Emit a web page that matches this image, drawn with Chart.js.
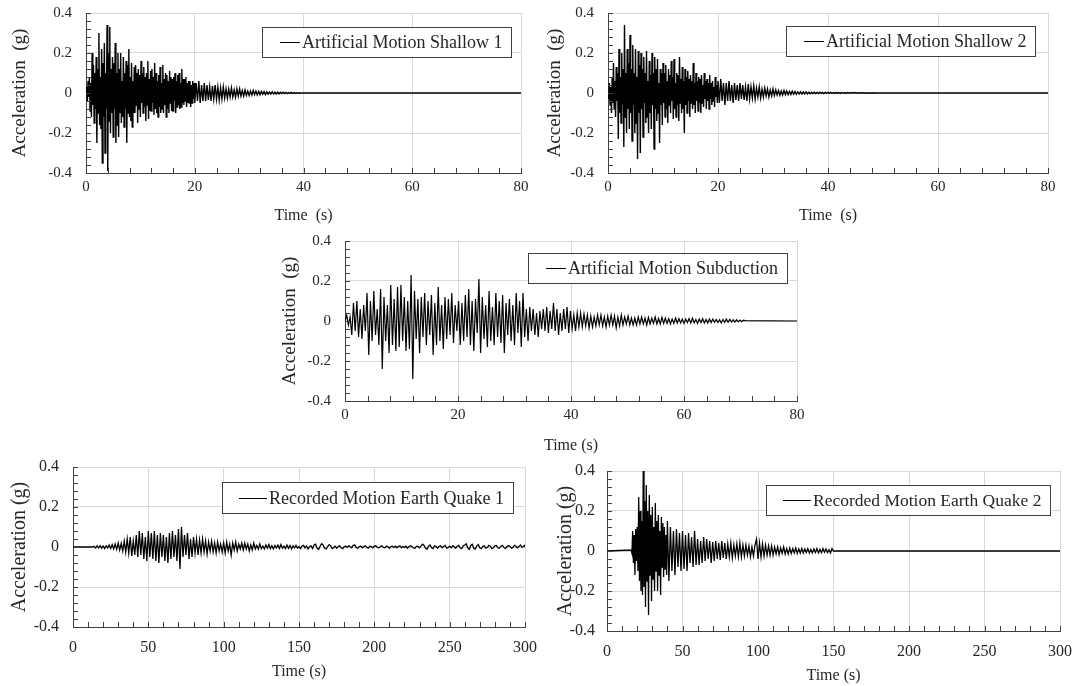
<!DOCTYPE html>
<html>
<head>
<meta charset="utf-8">
<script src="https://cdn.jsdelivr.net/npm/chart.js@4.4.1/dist/chart.umd.min.js"></script>
<style>
  body { margin: 0; background: #fff; width: 1077px; height: 686px; position: relative; overflow: hidden; }
  canvas { position: absolute; }
</style>
</head>
<body>
<canvas id="shallow1" width="527" height="235" style="left:9px;top:-10px"></canvas>
<canvas id="shallow2" width="519" height="235" style="left:544px;top:-10px"></canvas>
<canvas id="subduction" width="533" height="237" style="left:279px;top:218px"></canvas>
<canvas id="quake1" width="540" height="238" style="left:8px;top:443px"></canvas>
<canvas id="quake2" width="529" height="236" style="left:554px;top:449px"></canvas>
<script>
// axis ticks
const yTickValues = [-0.4, -0.2, 0, 0.2, 0.4]
const yTickLabels = ["-0.4", "-0.2", "0", "0.2", "0.4"]
const xTicksShort = [0, 20, 40, 60, 80]
const xTicksLong = [0, 50, 100, 150, 200, 250, 300]

// Artificial Motion Shallow 1 : strong phase every 0.125 s from 0 s, coda every 0.25 s from 20 s
const shallow1Strong = [
  0, 0.03, -0.04, 0.06, -0.02, 0.08, -0.09, 0.05,
  -0.12, 0.2, -0.06, 0.14, -0.15, 0.1, -0.08, 0.18,
  -0.25, 0.12, -0.1, 0.3, -0.16, 0.08, -0.18, 0.22,
  -0.35, 0.15, -0.12, 0.25, -0.3, 0.1, -0.08, 0.34,
  -0.39, 0.2, -0.14, 0.33, -0.2, 0.12, -0.1, 0.18,
  -0.22, 0.15, -0.08, 0.25, -0.25, 0.1, -0.16, 0.2,
  -0.22, 0.12, -0.1, 0.2, -0.15, 0.06, -0.12, 0.18,
  -0.17, 0.1, -0.08, 0.16, -0.25, 0.14, -0.1, 0.22,
  -0.12, 0.08, -0.14, 0.15, -0.17, 0.06, -0.1, 0.13,
  -0.1, 0.14, -0.06, 0.1, -0.15, 0.12, -0.08, 0.09,
  -0.12, 0.16, -0.05, 0.1, -0.1, 0.13, -0.07, 0.08,
  -0.14, 0.1, -0.06, 0.16, -0.13, 0.07, -0.09, 0.11,
  -0.09, 0.12, -0.05, 0.08, -0.11, 0.15, -0.08, 0.1,
  -0.1, 0.06, -0.12, 0.09, -0.07, 0.13, -0.1, 0.05,
  -0.08, 0.14, -0.1, 0.07, -0.06, 0.1, -0.12, 0.09,
  -0.08, 0.06, -0.1, 0.11, -0.05, 0.08, -0.09, 0.07,
  -0.09, 0.08, -0.04, 0.1, -0.1, 0.06, -0.07, 0.09,
  -0.06, 0.1, -0.08, 0.05, -0.07, 0.12, -0.05, 0.07,
  -0.06, 0.07, -0.04, 0.08, -0.07, 0.05, -0.05, 0.06,
  -0.05, 0.06, -0.07, 0.04, -0.05, 0.06, -0.03, 0.05
]
const shallow1Coda = [
  -0.05, 0.05, -0.04, 0.06, -0.05, 0.04, -0.04, 0.05,
  -0.04, 0.04, -0.035, 0.03, -0.04, 0.035, -0.03, 0.04,
  -0.03, 0.03, -0.035, 0.025, -0.03, 0.03, -0.025, 0.02,
  -0.025, 0.02, -0.02, 0.025, -0.02, 0.015, -0.02, 0.02,
  -0.015, 0.02, -0.015, 0.012, -0.015, 0.015, -0.012, 0.01,
  -0.012, 0.01, -0.01, 0.012, -0.008, 0.01, -0.01, 0.008,
  -0.008, 0.008, -0.006, 0.007, -0.008, 0.006, -0.006, 0.005,
  -0.005, 0.006, -0.005, 0.004, -0.005, 0.004, -0.004, 0.004,
  -0.003, 0.004, -0.003, 0.003, -0.003, 0.002, -0.002, 0.003,
  -0.002, 0.002, -0.002, 0.001, -0.001, 0.001, -0.001, 0, 0
]

// Artificial Motion Shallow 2 : strong phase every 0.125 s from 0 s, coda every 0.25 s from 20 s
const shallow2Strong = [
  0, -0.03, 0.05, -0.06, 0.03, -0.1, 0.08, -0.05,
  0.15, -0.08, 0.06, -0.12, 0.13, -0.04, 0.1, -0.23,
  0.22, -0.1, 0.08, -0.15, 0.2, -0.06, 0.12, -0.27,
  0.34, -0.12, 0.1, -0.2, 0.22, -0.08, 0.15, -0.18,
  0.29, -0.1, 0.12, -0.24, 0.24, -0.06, 0.1, -0.2,
  0.22, -0.15, 0.08, -0.33, 0.21, -0.1, 0.14, -0.3,
  0.2, -0.08, 0.12, -0.22, 0.18, -0.05, 0.1, -0.15,
  0.21, -0.12, 0.06, -0.2, 0.16, -0.1, 0.09, -0.18,
  0.2, -0.06, 0.1, -0.28, 0.18, -0.08, 0.12, -0.14,
  0.17, -0.1, 0.05, -0.25, 0.12, -0.06, 0.1, -0.16,
  0.15, -0.05, 0.1, -0.12, 0.14, -0.08, 0.06, -0.15,
  0.12, -0.06, 0.09, -0.1, 0.16, -0.04, 0.08, -0.13,
  0.17, -0.08, 0.05, -0.12, 0.1, -0.06, 0.09, -0.14,
  0.18, -0.05, 0.07, -0.1, 0.13, -0.08, 0.06, -0.2,
  0.12, -0.06, 0.08, -0.1, 0.11, -0.04, 0.07, -0.12,
  0.09, -0.05, 0.06, -0.08, 0.15, -0.06, 0.05, -0.1,
  0.1, -0.04, 0.06, -0.09, 0.08, -0.05, 0.07, -0.1,
  0.09, -0.05, 0.04, -0.07, 0.1, -0.03, 0.06, -0.08,
  0.07, -0.04, 0.05, -0.08, 0.09, -0.03, 0.05, -0.06,
  0.06, -0.04, 0.03, -0.07, 0.08, -0.02, 0.04, -0.05
]
const shallow2Coda = [
  0.06, -0.05, 0.07, -0.04, 0.05, -0.06, 0.05, -0.04,
  0.06, -0.04, 0.04, -0.05, 0.05, -0.035, 0.04, -0.04,
  0.05, -0.03, 0.04, -0.035, 0.03, -0.04, 0.045, -0.03,
  0.03, -0.025, 0.035, -0.03, 0.025, -0.02, 0.03, -0.025,
  0.02, -0.02, 0.025, -0.015, 0.02, -0.02, 0.015, -0.015,
  0.02, -0.012, 0.015, -0.01, 0.012, -0.012, 0.01, -0.01,
  0.012, -0.008, 0.01, -0.008, 0.008, -0.007, 0.009, -0.006,
  0.007, -0.006, 0.006, -0.005, 0.006, -0.005, 0.005, -0.004,
  0.005, -0.004, 0.004, -0.004, 0.004, -0.003, 0.004, -0.003,
  0.003, -0.003, 0.004, -0.002, 0.003, -0.003, 0.003, -0.002,
  0.003, -0.002, 0.003, -0.002, 0.002, -0.002, 0.003, -0.002,
  0.002, -0.002, 0.002, -0.001, 0.002, -0.002, 0.002, -0.001,
  0.002, -0.001, 0.002, -0.001, 0.002, -0.001, 0.001, -0.001,
  0.002, -0.001, 0.001, -0.001, 0.001, -0.001, 0.001, -0.001,
  0.001, -0.001, 0.001, 0, 0
]

// Artificial Motion Subduction : every 0.3 s from 0 s
const subduction = [
  0, 0.03, -0.02, 0.02, -0.07, 0.09, -0.05, 0.1, -0.08, 0.06,
  -0.09, 0.08, -0.05, 0.14, -0.17, 0.1, -0.1, 0.15, -0.07, 0.06,
  -0.12, 0.16, -0.24, 0.12, -0.1, 0.08, -0.16, 0.18, -0.12, 0.11,
  -0.15, 0.17, -0.13, 0.18, -0.1, 0.12, -0.15, 0.1, -0.14, 0.23,
  -0.29, 0.15, -0.09, 0.11, -0.16, 0.12, -0.08, 0.14, -0.12, 0.1,
  -0.07, 0.13, -0.17, 0.09, -0.12, 0.17, -0.1, 0.08, -0.14, 0.12,
  -0.09, 0.11, -0.07, 0.14, -0.11, 0.08, -0.05, 0.1, -0.12, 0.09,
  -0.1, 0.13, -0.08, 0.16, -0.12, 0.1, -0.15, 0.11, -0.06, 0.21,
  -0.16, 0.12, -0.09, 0.08, -0.13, 0.15, -0.1, 0.07, -0.12, 0.14,
  -0.08, 0.1, -0.11, 0.13, -0.16, 0.09, -0.07, 0.11, -0.1, 0.08,
  -0.12, 0.14, -0.06, 0.1, -0.13, 0.14, -0.08, 0.06, -0.1, 0.07,
  -0.05, 0.06, -0.07, 0.04, -0.08, 0.05, -0.04, 0.06, -0.05, 0.07,
  -0.06, 0.05, -0.04, 0.09, -0.05, 0.06, -0.07, 0.04, -0.05, 0.06,
  -0.04, 0.07, -0.06, 0.05, -0.04, 0.03, -0.05, 0.04, -0.03, 0.04,
  -0.03, 0.035, -0.025, 0.03, -0.035, 0.025, -0.03, 0.02, -0.025, 0.03,
  -0.02, 0.03, -0.025, 0.02, -0.03, 0.025, -0.02, 0.03, -0.02, 0.025,
  -0.035, 0.02, -0.025, 0.03, -0.02, 0.02, -0.015, 0.025, -0.02, 0.015,
  -0.02, 0.015, -0.02, 0.02, -0.015, 0.02, -0.015, 0.015, -0.02, 0.018,
  -0.015, 0.015, -0.012, 0.02, -0.015, 0.012, -0.015, 0.018, -0.012, 0.015,
  -0.012, 0.012, -0.015, 0.01, -0.012, 0.015, -0.01, 0.012, -0.01, 0.01,
  -0.012, 0.01, -0.008, 0.012, -0.01, 0.015, -0.01, 0.008, -0.012, 0.01,
  -0.008, 0.012, -0.01, 0.008, -0.01, 0.01, -0.008, 0.01, -0.006, 0.008,
  -0.008, 0.006, -0.01, 0.008, -0.006, 0.01, -0.006, 0.008, -0.005, 0.006,
  -0.005, 0.006, -0.004, 0.005, -0.003, 0.004, 0.002
]

// Recorded Motion Earth Quake 1 : every 1 s from 13 s (flat before)
const quake1 = [
  0, 0.004, -0.005, 0.006, -0.004, 0.007, -0.006, 0.005, -0.008, 0.006,
  -0.005, 0.01, -0.008, 0.012, -0.01, 0.015, -0.012, 0.02, -0.015, 0.018,
  -0.02, 0.03, -0.025, 0.04, -0.03, 0.05, -0.045, 0.03, -0.04, 0.06,
  -0.05, 0.08, -0.04, 0.07, -0.06, 0.05, -0.07, 0.08, -0.05, 0.07,
  -0.06, 0.08, -0.07, 0.06, -0.08, 0.07, -0.05, 0.06, -0.07, 0.05,
  -0.08, 0.07, -0.06, 0.08, -0.05, 0.06, -0.07, 0.09, -0.11, 0.1,
  -0.05, 0.06, -0.04, 0.07, -0.06, 0.04, -0.05, 0.05, -0.03, 0.04,
  -0.04, 0.035, -0.03, 0.04, -0.025, 0.03, -0.035, 0.025, -0.02, 0.03,
  -0.025, 0.02, -0.03, 0.025, -0.02, 0.015, -0.025, 0.02, -0.03, 0.025,
  -0.02, 0.015, -0.04, 0.02, -0.015, 0.025, -0.02, 0.015, -0.01, 0.02,
  -0.015, 0.02, -0.01, 0.015, -0.02, 0.01, -0.015, 0.02, -0.01, 0.008,
  -0.01, 0.015, -0.008, 0.005, -0.01, 0.01, -0.006, 0.012, -0.008, 0.006,
  -0.01, 0.008, -0.005, 0.01, -0.008, 0.012, -0.006, 0.004, -0.008, 0.01,
  -0.006, 0.008, -0.01, 0.006, -0.004, 0.008, -0.006, 0.002, -0.008, 0.005,
  0.008, -0.004, 0.005, -0.01, 0.002, 0.006, -0.008, 0.01, 0.014, -0.006,
  -0.012, 0.004, 0.016, 0.01, -0.006, -0.01, 0.002, 0.012, 0.006, -0.008,
  -0.004, 0.004, -0.006, 0.002, 0.006, -0.004, -0.008, 0.002, 0.004, -0.002,
  0.006, 0.002, -0.004, 0.008, 0.01, -0.002, -0.006, 0.002, 0.004, -0.004,
  0.002, 0.006, -0.002, -0.006, 0.004, 0.002, -0.004, 0.004, 0.006, -0.002,
  -0.004, 0.002, 0.006, -0.002, -0.004, 0.004, 0.002, -0.006, 0.002, 0.004,
  -0.002, 0.004, -0.004, 0.002, 0.006, -0.004, 0.002, -0.002, 0.004, -0.006,
  0.002, 0.006, 0.002, -0.004, -0.006, 0.004, 0.002, -0.004, 0.006, 0.014,
  0.008, -0.006, -0.01, 0.004, 0.01, -0.004, -0.008, 0.006, 0.002, -0.006,
  0.004, 0.006, -0.004, 0.002, 0.008, -0.006, -0.002, 0.004, -0.004, 0.006,
  0.002, -0.006, 0.004, 0.008, -0.004, -0.008, 0.006, 0.01, 0.016, -0.004,
  -0.012, 0.008, 0.014, -0.006, -0.01, 0.006, 0.012, -0.004, -0.008, 0.004,
  0.006, -0.006, -0.002, 0.008, 0.004, -0.008, -0.004, 0.006, 0.008, -0.004,
  -0.006, 0.004, 0.008, -0.002, -0.008, 0.002, 0.006, 0.004, -0.006, -0.002,
  0.008, 0.004, -0.004, 0.002, 0.01, -0.002, 0.004, 0.01
]

// Recorded Motion Earth Quake 2 : burst every 0.5 s from 16 s, coda every 1 s from 40 s
const quake2Burst = [
  0.005, -0.01, 0.1, -0.06, 0.08, -0.12, 0.11, -0.05,
  0.12, -0.1, 0.27, -0.15, 0.2, -0.2, 0.15, -0.22,
  0.4, -0.18, 0.25, -0.28, 0.33, -0.15, 0.2, -0.32,
  0.28, -0.12, 0.18, -0.25, 0.22, -0.14, 0.12, -0.2,
  0.24, -0.1, 0.15, -0.2, 0.18, -0.12, 0.1, -0.22,
  0.17, -0.08, 0.14, -0.13, 0.12, -0.09, 0.08, -0.12
]
const quake2Coda = [
  0.15, -0.15, 0.12, -0.1, 0.1, -0.12, 0.11, -0.08, 0.09, -0.1,
  0.1, -0.09, 0.08, -0.1, 0.09, -0.06, 0.07, -0.08, 0.1, -0.07,
  0.06, -0.07, 0.05, -0.06, 0.07, -0.05, 0.06, -0.04, 0.05, -0.06,
  0.045, -0.05, 0.05, -0.04, 0.04, -0.045, 0.05, -0.035, 0.04, -0.04,
  0.035, -0.03, 0.04, -0.035, 0.03, -0.025, 0.035, -0.03, 0.04, -0.03,
  0.03, -0.025, 0.03, -0.02, 0.025, -0.03, 0.02, -0.025, 0.03, 0.06,
  -0.04, 0.04, -0.03, 0.035, -0.025, 0.03, -0.02, 0.025, -0.02, 0.025,
  -0.02, 0.02, -0.015, 0.02, -0.018, 0.015, -0.012, 0.02, -0.015, 0.012,
  -0.015, 0.015, -0.012, 0.012, -0.01, 0.015, -0.012, 0.01, -0.01, 0.012,
  -0.01, 0.01, -0.008, 0.012, -0.01, 0.008, -0.01, 0.01, -0.008, 0.012,
  -0.01, 0.008, -0.008, 0.012, -0.006, 0.01, -0.008, 0.006, -0.01, 0.012, 0
]

const ink = "#262626"
const axisColor = "#404040"
const gridColor = "#d9d9d9"
Chart.defaults.font.family = '"Liberation Serif", "Times New Roman", serif'
Chart.defaults.color = ink

// record segments -> {x, y}, with a zero line before the record and up to the axis end
function toPoints(segments, xEnd) {
  const pts = []
  if (segments[0].start > 0) pts.push({ x: 0, y: 0 })
  segments.forEach((s) => {
    s.values.forEach((v, i) => pts.push({ x: s.start + i * s.dt, y: v }))
  })
  pts.push({ x: xEnd, y: 0 })
  return pts
}

// small inward tick marks on the left and bottom axes
const innerTicks = {
  id: "innerTicks",
  afterDatasetsDraw(chart, args, opts) {
    const { ctx, chartArea: a, scales } = chart
    const x = scales.x, y = scales.y
    ctx.save()
    ctx.strokeStyle = axisColor
    ctx.lineWidth = 1
    ctx.beginPath()
    for (let v = x.min; v <= x.max + 1e-9; v += opts.xMinor) {
      const px = Math.round(x.getPixelForValue(v)) + 0.5
      ctx.moveTo(px, a.bottom)
      ctx.lineTo(px, a.bottom - 5)
    }
    for (let v = y.min; v <= y.max + 1e-9; v += opts.yMinor) {
      const py = Math.round(y.getPixelForValue(v)) + 0.5
      ctx.moveTo(a.left, py)
      ctx.lineTo(a.left + 5, py)
    }
    ctx.stroke()
    ctx.restore()
  },
}

// framed legend in the upper right corner of the plot
const boxLegend = {
  id: "boxLegend",
  afterDraw(chart, args, opts) {
    const { ctx, chartArea: a } = chart
    const text = chart.data.datasets[0].label
    ctx.save()
    ctx.font = opts.fontSize + 'px "Liberation Serif", "Times New Roman", serif'
    const tw = ctx.measureText(text).width
    const w = Math.round(opts.padLeft + opts.lineLen + 2 + tw + 9)
    const h = opts.height
    const right = Math.round(a.right - opts.right)
    const top = Math.round(a.top + opts.top)
    const left = right - w
    ctx.fillStyle = "#fff"
    ctx.fillRect(left, top, w, h)
    ctx.strokeStyle = axisColor
    ctx.lineWidth = 1
    ctx.strokeRect(left + 0.5, top + 0.5, w, h)
    const cy = Math.round(top + h / 2) + 0.5
    ctx.strokeStyle = "#000"
    ctx.beginPath()
    ctx.moveTo(left + opts.padLeft, cy)
    ctx.lineTo(left + opts.padLeft + opts.lineLen, cy)
    ctx.stroke()
    ctx.fillStyle = ink
    ctx.textBaseline = "middle"
    ctx.fillText(text, left + opts.padLeft + opts.lineLen + 2, cy + 1)
    ctx.restore()
  },
}

function makePanel(id, p) {
  new Chart(document.getElementById(id), {
    type: "line",
    data: {
      datasets: [
        {
          label: p.label,
          data: p.points,
          borderColor: "#000",
          borderWidth: p.lineWidth,
          pointRadius: 0,
          tension: 0,
          fill: false,
        },
      ],
    },
    options: {
      responsive: false,
      animation: false,
      events: [],
      parsing: false,
      normalized: true,
      layout: { padding: { top: 0, right: 15, left: 0, bottom: 0 } },
      plugins: {
        legend: { display: false },
        tooltip: { enabled: false },
        innerTicks: { xMinor: p.xMinor, yMinor: 0.04 },
        boxLegend: p.legend,
      },
      scales: {
        x: {
          type: "linear",
          min: 0,
          max: p.xTicks[p.xTicks.length - 1],
          afterBuildTicks: (s) => { s.ticks = p.xTicks.map((v) => ({ value: v })) },
          afterFit: (s) => { s.height = p.xHeight },
          ticks: { padding: p.xPad, font: { size: p.tickSize, lineHeight: 1.25 }, color: ink, maxRotation: 0, callback: (v) => String(v) },
          grid: { color: gridColor, drawTicks: false },
          border: { color: axisColor },
          title: { display: true, text: p.xTitle, font: { size: 16 }, color: ink, padding: 0 },
        },
        y: {
          min: -0.4,
          max: 0.4,
          afterBuildTicks: (s) => { s.ticks = yTickValues.map((v) => ({ value: v })) },
          afterFit: (s) => { s.width = p.yWidth },
          ticks: {
            padding: p.yPad,
            font: { size: p.tickSize, lineHeight: p.tickSize === 15 ? 1.2 : 1.25 },
            color: ink,
            callback: (v) => yTickLabels[yTickValues.findIndex((t) => Math.abs(t - v) < 1e-9)],
          },
          grid: { color: gridColor, drawTicks: false },
          border: { color: axisColor },
          title: { display: true, text: p.yTitle, font: { size: p.yTitleSize }, color: ink, padding: 0 },
        },
      },
    },
    plugins: [innerTicks, boxLegend],
  })
}

makePanel("shallow1", {
  label: "Artificial Motion Shallow 1",
  points: toPoints([
    { start: 0, dt: 0.125, values: shallow1Strong },
    { start: 20, dt: 0.25, values: shallow1Coda },
  ], 80),
  xTicks: xTicksShort, xMinor: 4, lineWidth: 1.4,
  xTitle: "Time  (s)", yTitle: "Acceleration  (g)", yTitleSize: 19, tickSize: 15,
  yWidth: 77, xHeight: 52, xPad: 5, yPad: 14,
  legend: { right: 10, top: 14, height: 30, fontSize: 18, padLeft: 18, lineLen: 20 },
})
makePanel("shallow2", {
  label: "Artificial Motion Shallow 2",
  points: toPoints([
    { start: 0, dt: 0.125, values: shallow2Strong },
    { start: 20, dt: 0.25, values: shallow2Coda },
  ], 80),
  xTicks: xTicksShort, xMinor: 4, lineWidth: 1.4,
  xTitle: "Time  (s)", yTitle: "Acceleration  (g)", yTitleSize: 19, tickSize: 15,
  yWidth: 64, xHeight: 52, xPad: 5, yPad: 14,
  legend: { right: 13, top: 13, height: 30, fontSize: 18, padLeft: 18, lineLen: 20 },
})
makePanel("subduction", {
  label: "Artificial Motion Subduction",
  points: toPoints([{ start: 0, dt: 0.3, values: subduction }], 80),
  xTicks: xTicksShort, xMinor: 4, lineWidth: 1.2,
  xTitle: "Time (s)", yTitle: "Acceleration  (g)", yTitleSize: 19, tickSize: 15,
  yWidth: 66, xHeight: 54, xPad: 5, yPad: 14,
  legend: { right: 10, top: 12, height: 30, fontSize: 18, padLeft: 18, lineLen: 20 },
})
makePanel("quake1", {
  label: "Recorded Motion Earth Quake 1",
  points: toPoints([{ start: 13, dt: 1, values: quake1 }], 300),
  xTicks: xTicksLong, xMinor: 10, lineWidth: 1.3,
  xTitle: "Time (s)", yTitle: "Acceleration (g)", yTitleSize: 20, tickSize: 16,
  yWidth: 65, xHeight: 54, xPad: 11, yPad: 14,
  legend: { right: 12, top: 15, height: 31, fontSize: 18, padLeft: 17, lineLen: 28 },
})
makePanel("quake2", {
  label: "Recorded Motion Earth Quake 2",
  points: toPoints([
    { start: 16, dt: 0.5, values: quake2Burst },
    { start: 40, dt: 1, values: quake2Coda },
  ], 300),
  xTicks: xTicksLong, xMinor: 10, lineWidth: 1.3,
  xTitle: "Time (s)", yTitle: "Acceleration (g)", yTitleSize: 20, tickSize: 16,
  yWidth: 53, xHeight: 54, xPad: 11, yPad: 12,
  legend: { right: 10, top: 14, height: 30, fontSize: 17.5, padLeft: 17, lineLen: 28 },
})
</script>
</body>
</html>
